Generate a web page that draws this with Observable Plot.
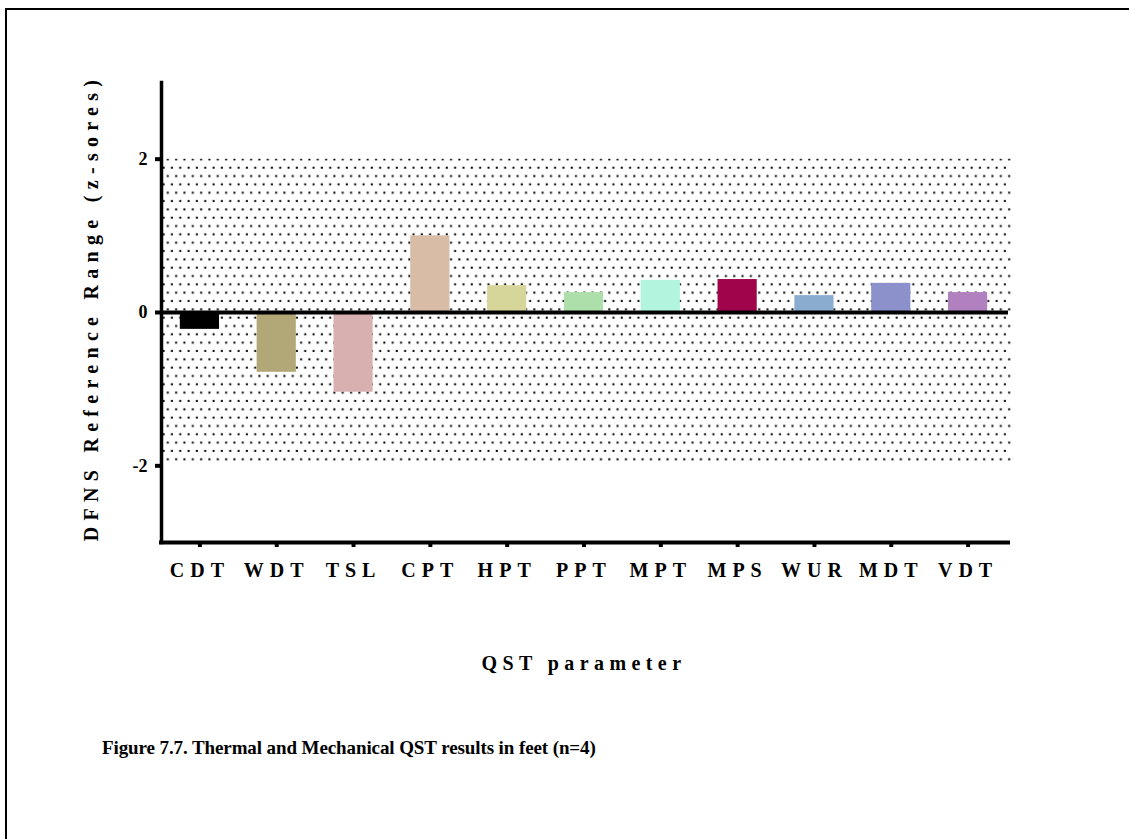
<!DOCTYPE html>
<html><head><meta charset="utf-8">
<script src="https://cdn.jsdelivr.net/npm/d3@7"></script>
<script src="https://cdn.jsdelivr.net/npm/@observablehq/plot@0.6"></script>
<style>
html,body{margin:0;padding:0;background:#fff;width:1129px;height:839px;overflow:hidden;}
#frame{position:absolute;left:5px;top:8px;width:1200px;height:900px;border-top:2px solid #000;border-left:2px solid #000;}
#chart{position:absolute;left:0;top:0;}
#caption{position:absolute;left:102px;top:737px;font:bold 19px "Liberation Serif",serif;color:#000;white-space:nowrap;letter-spacing:-0.1px;}
</style></head><body>
<div id="frame"></div>
<div id="chart"></div>
<div id="caption">Figure 7.7. Thermal and Mechanical QST results in feet (n=4)</div>
<script>
const parameters = ["CDT","WDT","TSL","CPT","HPT","PPT","MPT","MPS","WUR","MDT","VDT"];
const zScores = [-0.22,-0.78,-1.04,1.0,0.35,0.26,0.42,0.43,0.22,0.38,0.26];
const barColors = ["#000000","#b2a776","#d8b0b0","#d9bca6","#d6d59a","#addfab","#b2f5de","#a0044a","#8aaccf","#8c91cc","#b080bf"];
const referenceRange = [-2, 2];
const yTicks = [-2, 0, 2];
const xTitle = "QST parameter";
const yTitle = "DFNS Reference Range (z-sores)";

const data = parameters.map((p, i) => ({parameter: p, z: zScores[i], color: barColors[i]}));

const chart = Plot.plot({
  width: 1129,
  height: 700,
  marginLeft: 161,
  marginRight: 123,
  marginTop: 82,
  marginBottom: 158,
  x: {domain: parameters, paddingInner: 0.49, paddingOuter: 0.245, round: false, label: null},
  y: {domain: [-3, 3], label: null},
  style: {fontFamily: '"Liberation Serif", serif', fontWeight: "bold", background: "transparent", color: "#000", overflow: "visible"},
  marks: [
    Plot.rect([referenceRange], {y1: d => d[0], y2: d => d[1], fill: "url(#dots)", insetRight: -5, insetLeft: 2}),
    Plot.barY(data, {x: "parameter", y: "z", fill: "color"}),
    Plot.ruleY([0], {strokeWidth: 4, insetRight: -2}),
    Plot.ruleY([-3], {strokeWidth: 4, insetRight: -4, insetLeft: -2}),
    Plot.frame({anchor: "left", strokeWidth: 3.5}),
    Plot.axisY({ticks: yTicks, tickSize: 6, tickPadding: 8, strokeWidth: 4, fontSize: 18, tickFormat: d => String(d)}),
    Plot.axisX({tickSize: 5, tickPadding: 15, strokeWidth: 4, fontSize: 20}),
    Plot.text([xTitle], {frameAnchor: "bottom", dy: 127, fontSize: 20, fontWeight: "bold", textAnchor: "middle", text: d => d}),
    Plot.text([yTitle], {frameAnchor: "left", dx: -70, dy: -5, rotate: -90, fontSize: 20, fontWeight: "bold", textAnchor: "middle", text: d => d})
  ]
});

const svg = d3.select(chart);
const defs = svg.insert("defs", ":first-child");
const pat = defs.append("pattern").attr("id", "dots").attr("patternUnits", "userSpaceOnUse")
  .attr("x", 161).attr("y", 158).attr("width", 8.33).attr("height", 16.66);
pat.append("rect").attr("x", 5.8).attr("y", 0.4).attr("width", 2).attr("height", 2).attr("fill", "#000");
pat.append("rect").attr("x", 1.6).attr("y", 8.7).attr("width", 2).attr("height", 2).attr("fill", "#000");

svg.selectAll("text").each(function() {
  const t = this.textContent;
  if (parameters.includes(t)) this.style.letterSpacing = "6px";
  else if (t === yTitle) this.style.letterSpacing = "6.3px";
  else if (t === xTitle) this.style.letterSpacing = "5.4px";
});

document.getElementById("chart").append(chart);
</script>
</body></html>
